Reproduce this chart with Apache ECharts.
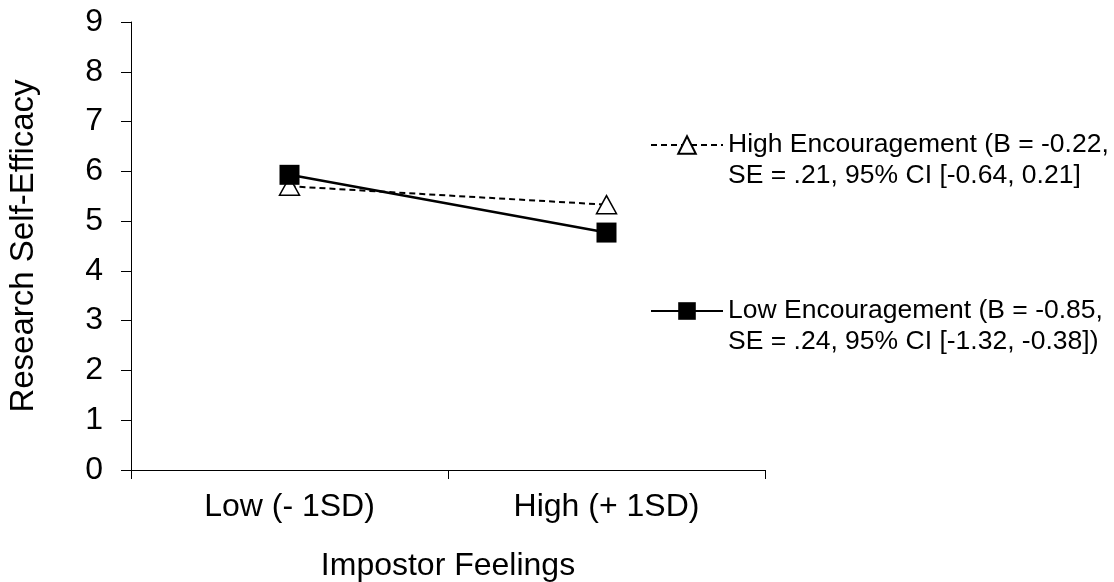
<!DOCTYPE html>
<html>
<head>
<meta charset="utf-8">
<script src="https://cdn.jsdelivr.net/npm/echarts@6/dist/echarts.min.js"></script>
<style>
  html, body { margin: 0; padding: 0; background: #fff; }
  #chart { width: 1114px; height: 582px; }
</style>
</head>
<body>
<div id="chart"></div>
<script>
// 数据
var categories = ["Low (- 1SD)", "High (+ 1SD)"];
var highEnc = [5.70, 5.33];
var lowEnc = [5.93, 4.77];
var seriesNames = ["High Encouragement", "Low Encouragement"];
var legendLines = {
  "High Encouragement": ["High Encouragement (B = -0.22,", "SE = .21, 95% CI [-0.64, 0.21]"],
  "Low Encouragement": ["Low Encouragement (B = -0.85,", "SE = .24, 95% CI [-1.32, -0.38])"]
};

var font = "'Liberation Sans', Arial, sans-serif";
var lineH = 31;

var chart = echarts.init(document.getElementById("chart"));

// 图例：空的首行让图标对齐第一行文字
function legendCfg(name, iconY) {
  return {
    data: [name],
    left: 650,
    top: iconY - lineH * 1.5,
    padding: 0,
    itemWidth: 72,
    itemHeight: 22,
    selectedMode: false,
    formatter: function (n) { return "\u00a0\n" + legendLines[n].join("\n"); },
    textStyle: {
      fontFamily: font,
      fontSize: 26.5,
      color: "#000",
      lineHeight: lineH
    }
  };
}

chart.setOption({
  backgroundColor: "#fff",
  animation: false,
  grid: { left: 131, right: 349, top: 22, bottom: 112, outerBoundsMode: "none" },
  legend: [legendCfg(seriesNames[0], 145), legendCfg(seriesNames[1], 311)],
  xAxis: {
    type: "category",
    data: categories,
    boundaryGap: true,
    name: "Impostor Feelings",
    nameLocation: "middle",
    nameGap: 80,
    nameTextStyle: { fontFamily: font, fontSize: 32, color: "#000", verticalAlign: "top" },
    axisLine: { lineStyle: { color: "#000", width: 1 } },
    axisTick: { show: true, length: 9, lineStyle: { color: "#000" } },
    axisLabel: { fontFamily: font, fontSize: 32, color: "#000", margin: 21 },
    splitLine: { show: false }
  },
  yAxis: {
    type: "value",
    min: 0,
    max: 9,
    interval: 1,
    name: "Research Self-Efficacy",
    nameLocation: "middle",
    nameGap: 91,
    nameTextStyle: { fontFamily: font, fontSize: 33, color: "#000" },
    axisLine: { show: true, lineStyle: { color: "#000", width: 1 } },
    axisTick: { show: true, length: 10, lineStyle: { color: "#000" } },
    axisLabel: { fontFamily: font, fontSize: 32, color: "#000", margin: 28 },
    splitLine: { show: false }
  },
  series: [
    {
      name: seriesNames[0],
      type: "line",
      data: highEnc,
      symbol: "triangle",
      symbolSize: [20, 18],
      lineStyle: { color: "#000", width: 2, type: [6, 4] },
      itemStyle: { color: "#fff", borderColor: "#000", borderWidth: 1.5 }
    },
    {
      name: seriesNames[1],
      type: "line",
      data: lowEnc,
      symbol: "rect",
      symbolSize: 20,
      lineStyle: { color: "#000", width: 2.5 },
      itemStyle: { color: "#000", borderColor: "#000", borderWidth: 0 }
    }
  ]
});
</script>
</body>
</html>
